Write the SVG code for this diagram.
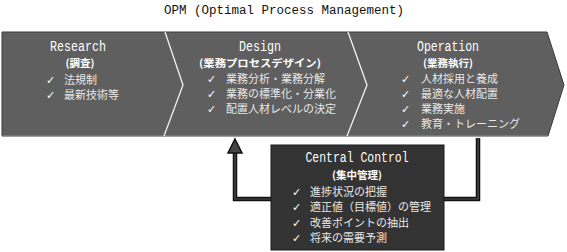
<svg xmlns="http://www.w3.org/2000/svg" width="567" height="252" viewBox="0 0 567 252">
<style>
.title{font-family:"Liberation Mono",monospace;font-size:12.5px;fill:#111;text-anchor:middle}
.hd{text-anchor:middle;fill:#fff}
.h{font-family:"Liberation Mono","DejaVu Sans Mono",monospace;font-size:14px}
.sub{font-family:"Noto Sans CJK JP",sans-serif;font-size:10.5px;font-weight:bold}
.it{font-family:"Noto Sans CJK JP",sans-serif;font-size:11px;fill:#e8e8e8}
.ck{font-family:"DejaVu Sans",sans-serif;font-size:11px;fill:#fff;font-weight:bold}
.band{fill:#5f5f5f;stroke:#3a3a3a;stroke-width:1}
.div{fill:none;stroke:#f2f2f2;stroke-width:1.3}
.conn{fill:none;stroke:#111;stroke-width:4.5}
.conni{fill:none;stroke:#555;stroke-width:1.2}
</style>
<text class="title" x="284" y="14">OPM (Optimal Process Management)</text>
<g id="band">
<polygon class="band" points="2,32 547,32 564,85 548,136 2,136"/>
<line x1="2" y1="136" x2="548" y2="136" stroke="#a0a0a0" stroke-width="1.2"/>
<polyline class="div" points="165,32 183,85 164,136"/>
<polyline class="div" points="348,32 367,85 347,136"/>
</g>
<g id="research">
<text class="hd"><tspan class="h" x="78" y="50.5" textLength="56" lengthAdjust="spacingAndGlyphs">Research</tspan><tspan class="sub" x="80" y="67">(調査)</tspan></text>
<text class="ck"><tspan x="46" y="84">✓</tspan><tspan x="46" y="99">✓</tspan></text>
<text class="it"><tspan x="64" y="84">法規制</tspan><tspan x="64" y="99">最新技術等</tspan></text>
</g>
<g id="design">
<text class="hd"><tspan class="h" x="260" y="50.5" textLength="42" lengthAdjust="spacingAndGlyphs">Design</tspan><tspan class="sub" x="260" y="67" textLength="122" lengthAdjust="spacingAndGlyphs">(業務プロセスデザイン)</tspan></text>
<text class="ck"><tspan x="207" y="83">✓</tspan><tspan x="207" y="98">✓</tspan><tspan x="207" y="113">✓</tspan></text>
<text class="it"><tspan x="226" y="83">業務分析・業務分解</tspan><tspan x="226" y="98">業務の標準化・分業化</tspan><tspan x="226" y="113">配置人材レベルの決定</tspan></text>
</g>
<g id="operation">
<text class="hd"><tspan class="h" x="448" y="50.5" textLength="62" lengthAdjust="spacingAndGlyphs">Operation</tspan><tspan class="sub" x="448" y="67">(業務執行)</tspan></text>
<text class="ck"><tspan x="401" y="83">✓</tspan><tspan x="401" y="98">✓</tspan><tspan x="401" y="113">✓</tspan><tspan x="401" y="127.5">✓</tspan></text>
<text class="it"><tspan x="421" y="83">人材採用と養成</tspan><tspan x="421" y="98">最適な人材配置</tspan><tspan x="421" y="113">業務実施</tspan><tspan x="421" y="127.5">教育・トレーニング</tspan></text>
</g>
<g id="connectors">
<polyline class="conn" points="271,199 235,199 235,152"/>
<polyline class="conni" points="271,199 235,199 235,152"/>
<polygon points="235,139 242,153 228,153" fill="#444" stroke="#111" stroke-width="1.5"/>
<polyline class="conn" points="444,199 478,199 478,138"/>
<polyline class="conni" points="444,199 478,199 478,138"/>
</g>
<g id="central">
<rect x="271" y="145" width="173" height="105" fill="#333" stroke="#1a1a1a" stroke-width="1"/>
<text class="hd"><tspan class="h" x="357" y="162" textLength="103" lengthAdjust="spacingAndGlyphs">Central Control</tspan><tspan class="sub" x="357" y="179">(集中管理)</tspan></text>
<text class="ck"><tspan x="292" y="196">✓</tspan><tspan x="292" y="211">✓</tspan><tspan x="292" y="227">✓</tspan><tspan x="292" y="242">✓</tspan></text>
<text class="it"><tspan x="310" y="196">進捗状況の把握</tspan><tspan x="310" y="211">適正値（目標値）の管理</tspan><tspan x="310" y="227">改善ポイントの抽出</tspan><tspan x="310" y="242">将来の需要予測</tspan></text>
</g>
</svg>
